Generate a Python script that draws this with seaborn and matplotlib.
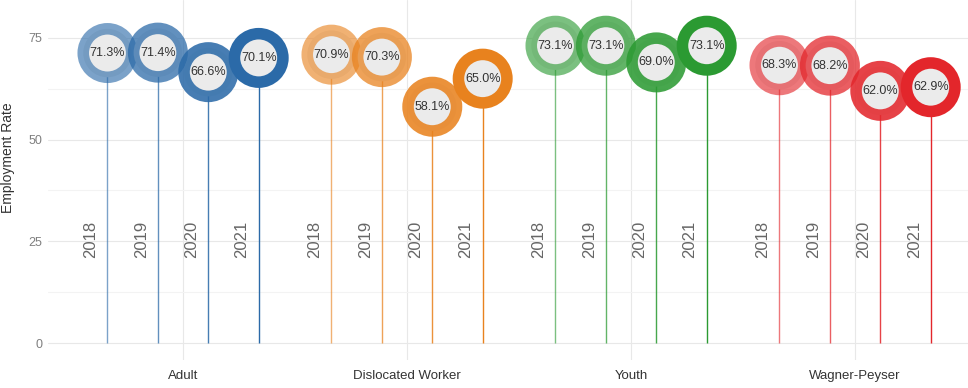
import matplotlib
matplotlib.use("Agg")
import matplotlib.pyplot as plt
import matplotlib.colors as mcolors
import numpy as np
import pandas as pd
import seaborn as sns

# ---- data ----
programs = ["Adult", "Dislocated Worker", "Youth", "Wagner-Peyser"]
years = ["2018", "2019", "2020", "2021"]
adult = [71.3, 71.4, 66.6, 70.1]
dislocated = [70.9, 70.3, 58.1, 65.0]
youth = [73.1, 73.1, 69.0, 73.1]
wagner = [68.3, 68.2, 62.0, 62.9]
y_ticks = [0, 25, 50, 75]

program_colors = ["#2b6aa8", "#e8821e", "#2b9a32", "#e3262b"]
year_alpha = [0.62, 0.74, 0.87, 1.0]

values = [adult, dislocated, youth, wagner]
dodge = 0.9
n_years = len(years)
rows = []
for gi, (prog, vals) in enumerate(zip(programs, values)):
    for yi, (yr, v) in enumerate(zip(years, vals)):
        xpos = gi + (yi - (n_years - 1) / 2) * dodge / n_years
        rows.append(dict(program=prog, year=yr, rate=v, xpos=xpos,
                         key=f"{prog}-{yr}",
                         color=mcolors.to_rgba(program_colors[gi], year_alpha[yi])))
df = pd.DataFrame(rows)

# ---- figure ----
sns.set_theme(style="whitegrid")
plt.rcParams["font.family"] = ["Liberation Sans", "DejaVu Sans"]

fig = plt.figure(figsize=(9.68, 3.88), dpi=100)
ax = fig.add_axes([48 / 968, 28 / 388, 920 / 968, 360 / 388])
ax.set_facecolor("white")

# stems
ax.vlines(df["xpos"], 0, df["rate"], colors=list(df["color"]), linewidth=1.0, zorder=2)

# circles
pal = dict(zip(df["key"], df["color"]))
sns.scatterplot(data=df, x="xpos", y="rate", hue="key", palette=pal, s=1218,
                linewidth=0, legend=False, ax=ax, zorder=3, clip_on=False)
coll = ax.collections[-1]
ec = list(df["color"])
coll.set_edgecolors(ec)
coll.set_facecolor("#ebebeb")
coll.set_linewidth(8.3)
coll.set_alpha(None)

# value labels
for _, r in df.iterrows():
    ax.text(r["xpos"], r["rate"], f"{r['rate']:.1f}%", ha="center", va="center",
            fontsize=9, color="#333333", zorder=5)
    ax.text(r["xpos"] - 0.074, 21, r["year"], rotation=90, ha="center", va="bottom",
            fontsize=12, color="#666666", zorder=4)

ax.set_xlim(-0.603, 3.504)
ax.set_ylim(-4.18, 84.34)
ax.set_xticks(range(len(programs)))
ax.set_xticklabels(programs, fontsize=9.5, color="#333333")
ax.set_yticks(y_ticks)
ax.set_yticklabels([str(t) for t in y_ticks], fontsize=9, color="#7f7f7f")
ax.set_yticks([12.5, 37.5, 62.5], minor=True)
ax.tick_params(axis="x", length=0, pad=7)
ax.tick_params(axis="y", which="both", length=0, pad=4)
ax.grid(True, which="major", axis="both", color="#e8e8e8", linewidth=0.8)
ax.grid(True, which="minor", axis="y", color="#f3f3f3", linewidth=0.8)
ax.set_axisbelow(True)
for s in ax.spines.values():
    s.set_visible(False)
ax.set_xlabel("")
ax.set_ylabel("Employment Rate", fontsize=10, color="#333333")
ax.yaxis.set_label_coords((15 - 48) / 920, 0.561)

fig.savefig("out.png", dpi=100)
